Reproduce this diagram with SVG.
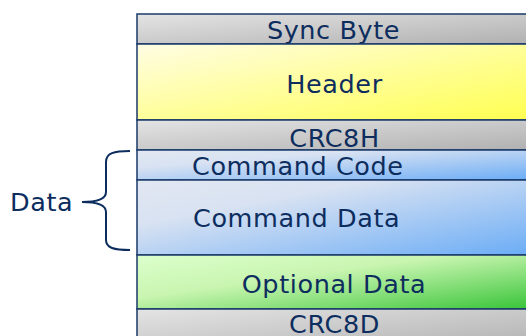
<svg xmlns="http://www.w3.org/2000/svg" width="526" height="336" viewBox="0 0 526 336">
<defs>
<linearGradient id="gGray" x1="0" y1="0" x2="1" y2="1">
<stop offset="0" stop-color="#e4e4e4"/><stop offset="1" stop-color="#b0b0b0"/>
</linearGradient>
<linearGradient id="gYellow" x1="0" y1="0" x2="1" y2="1">
<stop offset="0" stop-color="#fffde4"/><stop offset="1" stop-color="#ffff50"/>
</linearGradient>
<linearGradient id="gBlue" x1="0" y1="0" x2="1" y2="1">
<stop offset="0" stop-color="#e2e8f2"/><stop offset="0.3" stop-color="#d8e2f2"/><stop offset="1" stop-color="#6aacf6"/>
</linearGradient>
<linearGradient id="gGreen" x1="0" y1="0" x2="1" y2="1">
<stop offset="0" stop-color="#dcffcc"/><stop offset="0.4" stop-color="#c8f5b0"/><stop offset="1" stop-color="#38c438"/>
</linearGradient>
<style>
.box{stroke:#1a3a6a;stroke-width:1.5}
.t{font-family:"DejaVu Sans",Verdana,sans-serif;font-size:25.5px;letter-spacing:0.6px;fill:#0d2d5e}
.c{text-anchor:middle}
</style>
</defs>
<g id="sync"><rect class="box" x="137" y="14" width="395" height="30" fill="url(#gGray)"/><text class="t c" x="333.5" y="39">Sync Byte</text></g>
<g id="header"><rect class="box" x="137" y="44" width="395" height="76" fill="url(#gYellow)"/><text class="t c" x="334.5" y="92.5">Header</text></g>
<g id="crc8h"><rect class="box" x="137" y="120" width="395" height="30" fill="url(#gGray)"/><text class="t c" x="334.5" y="146.5">CRC8H</text></g>
<g id="cmdcode"><rect class="box" x="137" y="150" width="395" height="30" fill="url(#gBlue)"/><text class="t" x="192" y="175">Command Code</text></g>
<g id="cmddata"><rect class="box" x="137" y="180" width="395" height="75" fill="url(#gBlue)"/><text class="t" x="193" y="227">Command Data</text></g>
<g id="optdata"><rect class="box" x="137" y="255" width="395" height="54" fill="url(#gGreen)"/><text class="t c" x="334" y="292.5">Optional Data</text></g>
<g id="crc8d"><rect class="box" x="137" y="309" width="395" height="40" fill="url(#gGray)"/><text class="t c" x="334.5" y="333">CRC8D</text></g>
<g id="connectors">
<path d="M130 151 C114 151 106 153 106 162 L106 192 C106 199 98 202 82 202 C98 202 106 205 106 212 L106 240 C106 248 114 250 130 250" fill="none" stroke="#0d2d5e" stroke-width="2"/>
</g>
<g id="data-label"><text class="t" x="10" y="210.5">Data</text></g>
</svg>
